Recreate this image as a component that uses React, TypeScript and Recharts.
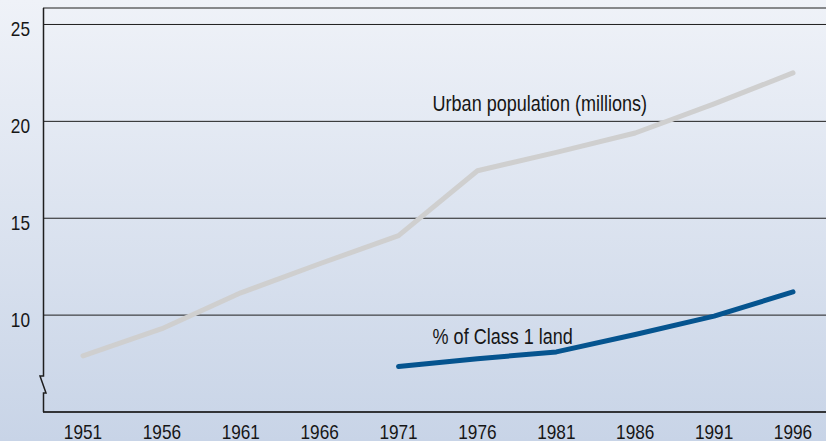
import React from 'react';
import { LineChart, Line, XAxis, YAxis, CartesianGrid, ReferenceDot } from 'recharts';

const years = ['1951', '1956', '1961', '1966', '1971', '1976', '1981', '1986', '1991', '1996'];
const urbanPopulation = [7.9, 9.3, 11.15, 12.65, 14.1, 17.45, 18.4, 19.4, 20.9, 22.5];
const classOneLand = [null, null, null, null, 7.35, 7.75, 8.1, 9.0, 9.95, 11.2];
const yTicks = [10, 15, 20, 25];

const data = years.map((year, i) => ({
  year,
  urban: urbanPopulation[i],
  class1: classOneLand[i],
}));

const W = 826;
const H = 441;
const AXIS_X = 43.5;
const FONT = "'Liberation Sans', Arial, sans-serif";
const TEXT = '#161616';
// no condensed face is installed, so squeeze the regular one
const SQUEEZE = 0.82;

const YTick = (props: any) => {
  const { x, y, payload } = props;
  return (
    <text
      transform={`translate(${x},${y + 4}) scale(${SQUEEZE},1)`}
      dy="0.355em"
      textAnchor="end"
      fill={TEXT}
      fontSize={21}
      fontFamily={FONT}
    >
      {payload.value}
    </text>
  );
};

const XTick = (props: any) => {
  const { x, y, payload } = props;
  return (
    <text
      transform={`translate(${x},${y}) scale(${SQUEEZE},1)`}
      dy="0.71em"
      textAnchor="middle"
      fill={TEXT}
      fontSize={21}
      fontFamily={FONT}
    >
      {payload.value}
    </text>
  );
};

const NoteLabel = (props: any) => {
  const { viewBox, text, dx } = props;
  if (!viewBox) return null;
  const x = viewBox.x + (viewBox.width || 0) + dx;
  const y = viewBox.y + (viewBox.height || 0) / 2;
  return (
    <text
      transform={`translate(${x},${y}) scale(${SQUEEZE},1)`}
      dy="0.355em"
      textAnchor="start"
      fill={TEXT}
      fontSize={22}
      fontFamily={FONT}
    >
      {text}
    </text>
  );
};

export default function App() {
  return (
    <div
      style={{
        position: 'absolute',
        left: 0,
        top: 0,
        width: W,
        height: H,
        background: 'linear-gradient(to bottom, #eff2f8 0%, #c8d4e7 100%)',
      }}
    >
      <LineChart width={W} height={H} data={data} margin={{ top: 8, right: 0, bottom: 0, left: 0 }}>
        <CartesianGrid vertical={false} stroke="#1e1e1e" strokeWidth={1} />
        <XAxis
          dataKey="year"
          height={29}
          padding={{ left: 40, right: 33 }}
          axisLine={{ stroke: '#1e1e1e', strokeWidth: 1.5 }}
          tickLine={false}
          tickSize={0}
          tickMargin={12}
          interval={0}
          tick={<XTick />}
        />
        <YAxis
          width={43}
          domain={[5, 25.85]}
          ticks={yTicks}
          axisLine={false}
          tickLine={false}
          tickSize={0}
          tickMargin={13}
          tick={<YTick />}
        />
        <Line
          type="linear"
          dataKey="urban"
          stroke="#cfcfcf"
          strokeWidth={5}
          strokeLinecap="round"
          strokeLinejoin="round"
          dot={false}
          activeDot={false}
          isAnimationActive={false}
        />
        <Line
          type="linear"
          dataKey="class1"
          stroke="#05548f"
          strokeWidth={5}
          strokeLinecap="round"
          strokeLinejoin="round"
          dot={false}
          activeDot={false}
          isAnimationActive={false}
        />
        <ReferenceDot
          x="1971"
          y={20.95}
          r={0}
          fill="none"
          stroke="none"
          label={<NoteLabel text="Urban population (millions)" dx={34} />}
        />
        <ReferenceDot
          x="1971"
          y={8.93}
          r={0}
          fill="none"
          stroke="none"
          label={<NoteLabel text="% of Class 1 land" dx={34} />}
        />
      </LineChart>
      {/* y axis drawn by hand so it can carry the break mark */}
      <svg
        width={W}
        height={H}
        style={{ position: 'absolute', left: 0, top: 0, pointerEvents: 'none' }}
      >
        <path
          d={`M${AXIS_X} 8 V376 H40 L46 393 H${AXIS_X} V412`}
          fill="none"
          stroke="#1e1e1e"
          strokeWidth={1.5}
        />
      </svg>
    </div>
  );
}
